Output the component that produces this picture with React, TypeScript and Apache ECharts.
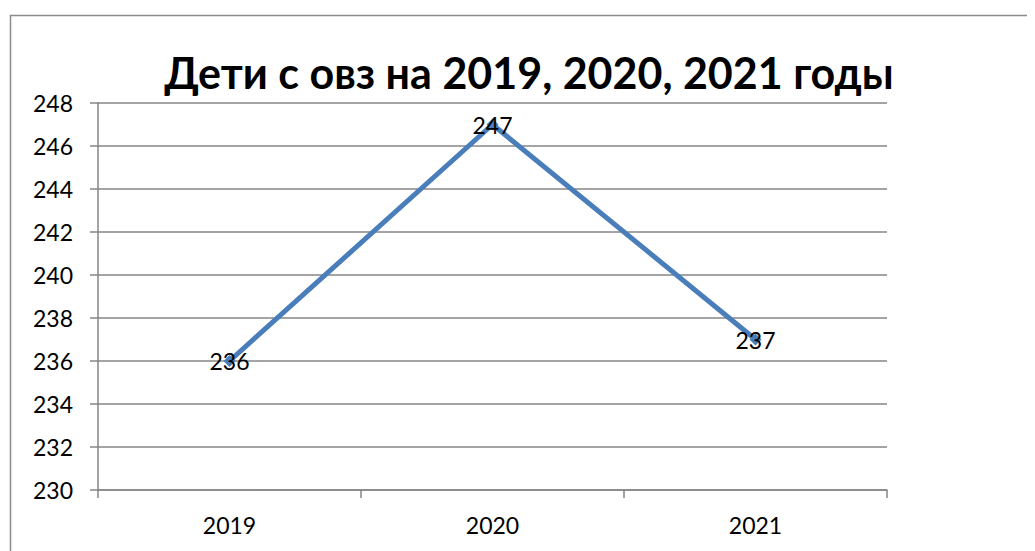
import React, { useEffect, useRef } from "react";
import * as echarts from "echarts";

const categories = ["2019", "2020", "2021"];
const values = [236, 247, 237];
const titleText = "Дети с овз на 2019, 2020, 2021 годы";

export default function App() {
  const ref = useRef<HTMLDivElement>(null);
  useEffect(() => {
    const chart = echarts.init(ref.current!, null, { renderer: "svg" });
    chart.setOption({
      animation: false,
      graphic: [
        {
          type: "rect",
          left: 0,
          top: 5,
          shape: { width: 1200, height: 700 },
          style: { fill: "none", stroke: "#8c8c8c", lineWidth: 1.5 },
          silent: true,
        },
      ],
      title: {
        text: titleText,
        left: 516,
        textAlign: "center",
        top: 38,
        textStyle: {
          fontFamily: "Lato",
          fontWeight: "bold",
          fontSize: 43,
          color: "#000",
        },
      },
      grid: { left: 90, top: 95, right: 148, bottom: 61 },
      xAxis: {
        type: "category",
        data: categories,
        boundaryGap: true,
        axisLine: { lineStyle: { color: "#868686", width: 1.5 } },
        axisTick: { show: true, length: 8, alignWithLabel: false, lineStyle: { color: "#868686", width: 1.5 } },
        axisLabel: { color: "#000", fontFamily: "Lato", fontSize: 23, margin: 23 },
      },
      yAxis: {
        type: "value",
        min: 230,
        max: 248,
        interval: 2,
        axisLine: { show: true, lineStyle: { color: "#868686", width: 1.5 } },
        axisTick: { show: true, length: 8, lineStyle: { color: "#868686", width: 1.5 } },
        axisLabel: { color: "#000", fontFamily: "Lato", fontSize: 23, margin: 25 },
        splitLine: { lineStyle: { color: "#868686", width: 1.5 } },
      },
      series: [
        {
          type: "line",
          data: values,
          symbol: "diamond",
          symbolSize: 12,
          lineStyle: { color: "#4a7ebb", width: 5 },
          itemStyle: { color: "#4a7ebb" },
          label: {
            show: true,
            position: "inside",
            color: "#000",
            fontFamily: "Lato",
            fontSize: 23,
          },
        },
      ],
    });
    return () => chart.dispose();
  }, []);
  return <div ref={ref} style={{ width: 1027, height: 543 }} />;
}
